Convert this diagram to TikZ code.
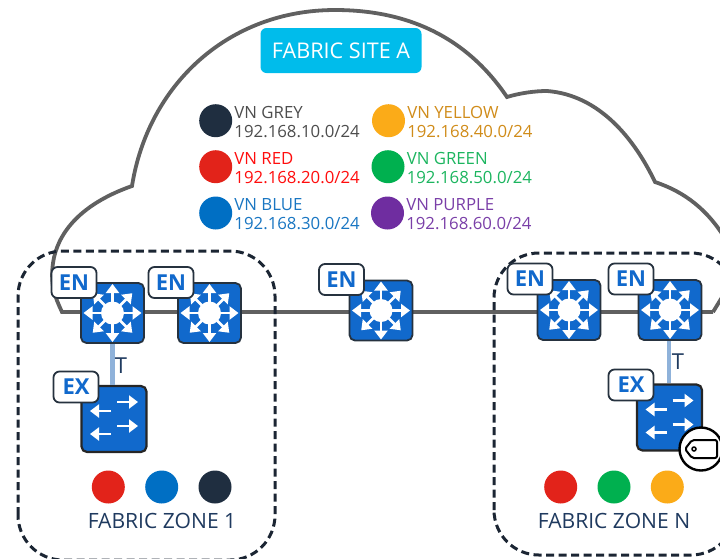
\documentclass[tikz,border=0pt]{standalone}
\usepackage{fontspec}
\setmainfont{Open Sans}
\usetikzlibrary{arrows.meta}
\definecolor{cloudgrey}{HTML}{606060}
\definecolor{swblue}{HTML}{1169CC}
\definecolor{swedge}{HTML}{26323F}
\definecolor{zonedark}{HTML}{1B2533}
\definecolor{linkblue}{HTML}{8FB2DA}
\definecolor{sitecyan}{HTML}{00BCEB}
\definecolor{navy}{HTML}{1F3A5F}
\definecolor{dotnavy}{HTML}{1F2E40}
\definecolor{dotred}{HTML}{E2231A}
\definecolor{dotblue}{HTML}{006FC4}
\definecolor{dotyellow}{HTML}{FBAB18}
\definecolor{dotgreen}{HTML}{00B04F}
\definecolor{dotpurple}{HTML}{6F2DA0}
\definecolor{txgrey}{HTML}{4D4D4D}
\definecolor{txred}{HTML}{FF0D0D}
\definecolor{txblue}{HTML}{1976C2}
\definecolor{txyellow}{HTML}{D08C1A}
\definecolor{txgreen}{HTML}{1CB55F}
\definecolor{txpurple}{HTML}{7A3FA8}
\def\p{0.75pt}
\tikzset{
  cloudline/.style={draw=cloudgrey,line width=3.8*\p,line join=miter},
  zoneline/.style={draw=zonedark,line width=3*\p,dash pattern=on 8*\p off 4.5*\p,rounded corners=33.75pt},
  swbox/.style={draw=swedge,fill=swblue,line width=1.8*\p,rounded corners=5.5*\p,inner sep=0pt,minimum width=63*\p,minimum height=60*\p},
  exbox/.style={swbox,draw=black!85,line width=2.2*\p,minimum width=65*\p,minimum height=66*\p},
  rolelabel/.style={draw=swedge,fill=white,line width=1.8*\p,rounded corners=6*\p,inner sep=0pt,minimum width=45*\p,minimum height=31*\p,text=swblue,font=\fontsize{16.5pt}{18pt}\selectfont\bfseries},
  tlink/.style={draw=linkblue,line width=4.5*\p},
  wa/.style={draw=white,line width=2.6*\p,-{Triangle[length=9*\p,width=13*\p]}},
  dot/.style={circle,inner sep=0pt,minimum size=33*\p},
  vntext/.style={anchor=west,inner sep=0pt,font=\fontsize{12.6pt}{14pt}\selectfont},
  ztext/.style={inner sep=0pt,text=navy,font=\fontsize{15.8pt}{17pt}\selectfont},
  tlabel/.style={inner sep=0pt,text=navy,font=\fontsize{16.5pt}{18pt}\selectfont},
}
\newcommand{\ensw}[3]{%
  \node[swbox] (#1) at (#2,#3) {};
  \begin{scope}[shift={(#2,#3)}]
    \foreach \a/\r in {0/29,45/28,90/29,135/28,180/29,225/28,270/29,315/28}{
      \draw[wa] (\a:8) -- (\a:\r);
    }
    \fill[white] (0,0) circle (11.5);
  \end{scope}
}
\newcommand{\exsw}[3]{%
  \node[exbox] (#1) at (#2,#3) {};
  \begin{scope}[shift={(#2,#3)}]
    \draw[wa] (3,-17) -- (24,-17);
    \draw[wa] (-3,-8) -- (-24,-8);
    \draw[wa] (3,7) -- (24,7);
    \draw[wa] (-3,15) -- (-24,15);
  \end{scope}
}
\newcommand{\vn}[7]{%
  \node[dot,fill=#6] (#1) at (#2,#3) {};
  \node[vntext,text=#7] (#1a) at (#2+18.5,#3-8) {#4};
  \node[vntext,text=#7] (#1b) at (#2+18.5,#3+11) {#5};
}
\begin{document}
\begin{tikzpicture}[x=0.75pt,y=-0.75pt]
\path[use as bounding box,clip] (0,0) rectangle (720,558);
% cloud
\draw[cloudline] (713,312) -- (62,312)
  .. controls (55,297) and (50,285) .. (53,263)
  .. controls (57,235) and (78,205) .. (132,186)
  .. controls (148,85) and (228,10) .. (335,10)
  .. controls (405,10) and (465,35) .. (507,97)
  .. controls (520,93) and (535,91) .. (547,91)
  .. controls (600,95) and (635,140) .. (655,182)
  .. controls (685,192) and (708,210) .. (726,240);
\draw[cloudline] (713,312) -- (724,294);
% zones
\draw[zoneline] (18,560) rectangle (275,251);
\draw[zoneline] (494,555) rectangle (736,253);
% site label
\node[fill=sitecyan,rounded corners=6*\p,inner sep=0pt,minimum width=161*\p,minimum height=45*\p,text=white,font=\fontsize{16.2pt}{18pt}\selectfont] (site) at (341,50.5) {\raisebox{-1pt}{FABRIC SITE A}};
% legend
\vn{grey}{215.7}{120.7}{VN GREY}{192.168.10.0/24}{dotnavy}{txgrey}
\vn{red}{215.7}{166.7}{VN RED}{192.168.20.0/24}{dotred}{txred}
\vn{blue}{215.7}{213}{VN BLUE}{192.168.30.0/24}{dotblue}{txblue}
\vn{yellow}{388.5}{120.7}{VN YELLOW}{192.168.40.0/24}{dotyellow}{txyellow}
\vn{green}{388}{166.7}{VN GREEN}{192.168.50.0/24}{dotgreen}{txgreen}
\vn{purple}{387.5}{213}{VN PURPLE}{192.168.60.0/24}{dotpurple}{txpurple}
% switches
\ensw{en1}{112.5}{313}
\ensw{en2}{209.5}{313}
\ensw{en3}{381}{310.5}
\ensw{en4}{569}{310}
\ensw{en5}{670}{310}
\exsw{ex1}{114}{419}
\exsw{ex2}{669.5}{417.5}
% links
\draw[tlink] (en1.south) -- (en1.south |- ex1.north);
\draw[tlink] (en5.south) ++(-1,0) coordinate (l5) -- (l5 |- ex2.north) ;
\node[tlabel] (t1) at (121,366) {T};
\node[tlabel] (t2) at (678,362) {T};
% role labels
\node[rolelabel] (len1) at (74,282.5) {EN};
\node[rolelabel] (len2) at (171,282.5) {EN};
\node[rolelabel] (len3) at (341.5,279.5) {EN};
\node[rolelabel] (len4) at (530,279) {EN};
\node[rolelabel] (len5) at (631,279) {EN};
\node[rolelabel] (lex1) at (76,387) {EX};
\node[rolelabel] (lex2) at (631,385) {EX};
% tag
\node[circle,draw=black,fill=white,line width=2.4*\p,inner sep=0pt,minimum size=43*\p] (tag) at (701,449) {};
\draw[black,line width=2*\p,line join=round,rounded corners=2*\p] (692,440) -- (717,440) -- (717,458) -- (692,458) -- (685,449) -- cycle;
\draw[black,line width=1.5*\p] (694,449) circle (2);
% zone dots
\node[dot,fill=dotred] (z1a) at (108.3,487) {};
\node[dot,fill=dotblue] (z1b) at (161.7,487) {};
\node[dot,fill=dotnavy] (z1c) at (215,487) {};
\node[dot,fill=dotred] (z2a) at (560.7,487) {};
\node[dot,fill=dotgreen] (z2b) at (614,487) {};
\node[dot,fill=dotyellow] (z2c) at (667.3,487) {};
\node[ztext] (z1) at (162,520.5) {FABRIC ZONE 1};
\node[ztext] (z2) at (614,520.5) {FABRIC ZONE N};
\end{tikzpicture}
\end{document}
